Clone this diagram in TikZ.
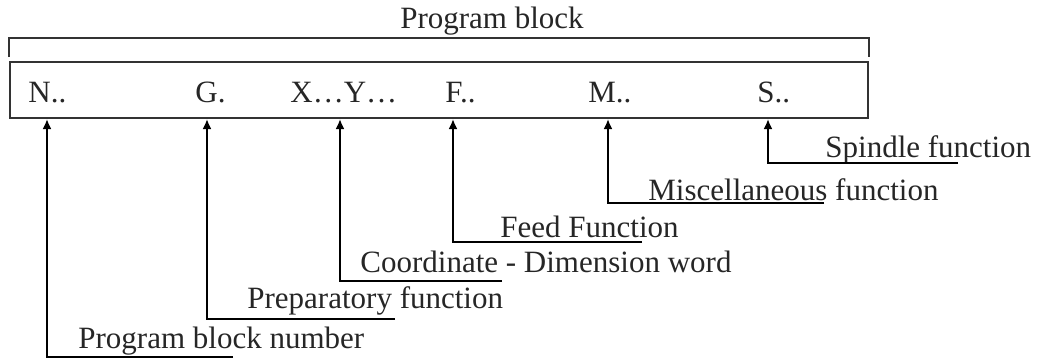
\documentclass[tikz,border=0pt]{standalone}
\usepackage{fontspec}
\setmainfont{Liberation Serif}
\usetikzlibrary{arrows.meta}
\tikzset{
word/.style={anchor=base west, inner sep=0pt, text=black!85, font=\fontsize{15.5}{18}\selectfont},
callout/.style={line width=1.2pt, -{Latex[length=5pt,width=4.5pt]}}
}

\begin{document}
\begin{tikzpicture}[x=0.5pt, y=-0.5pt]
    \useasboundingbox (0,0) rectangle (1040,360);

                \node[draw, draw=black!80, line width=1pt, minimum width=429pt, minimum height=28pt, inner sep=0pt] (block) at (439,90) {};
                \draw[draw=black!80, line width=1pt] ([yshift=2pt]block.north west) -- ++(0,-19) -| ([yshift=2pt]block.north east);
                \node[word, anchor=base] (title) at (492,28) {Program block};

                \node[word] (N) at (28,102) {N..};
                \node[word] (G) at (195,102) {G.};
                \node[word] (XY) at (290,102) {X…Y…};
                \node[word] (F) at (445,102) {F..};
                \node[word] (M) at (588,102) {M..};
                \node[word] (S) at (757,102) {S..};

                \node[word] (lN) at (78,348) {Program block number};
                \node[word] (lG) at (247,308) {Preparatory function};
                \node[word] (lXY) at (360,272) {Coordinate - Dimension word};
                \node[word] (lF) at (500,237) {Feed Function};
                \node[word] (lM) at (648,200) {Miscellaneous function};
                \node[word] (lS) at (825,157) {Spindle function};

                \coordinate (cN) at (47,357);  \coordinate (eN) at (233,357);
                \coordinate (cG) at (207,319); \coordinate (eG) at (395,319);
                \coordinate (cXY) at (340,281); \coordinate (eXY) at (502,281);
                \coordinate (cF) at (453,242); \coordinate (eF) at (642,242);
                \coordinate (cM) at (608,203); \coordinate (eM) at (824,203);
                \coordinate (cS) at (768,163); \coordinate (eS) at (958,163);

                \draw[callout] (eN) -- (cN) -- (cN |- block.south);
                \draw[callout] (eG) -- (cG) -- (cG |- block.south);
                \draw[callout] (eXY) -- (cXY) -- (cXY |- block.south);
                \draw[callout] (eF) -- (cF) -- (cF |- block.south);
                \draw[callout] (eM) -- (cM) -- (cM |- block.south);
                \draw[callout] (eS) -- (cS) -- (cS |- block.south);

            \end{tikzpicture}
\end{document}
